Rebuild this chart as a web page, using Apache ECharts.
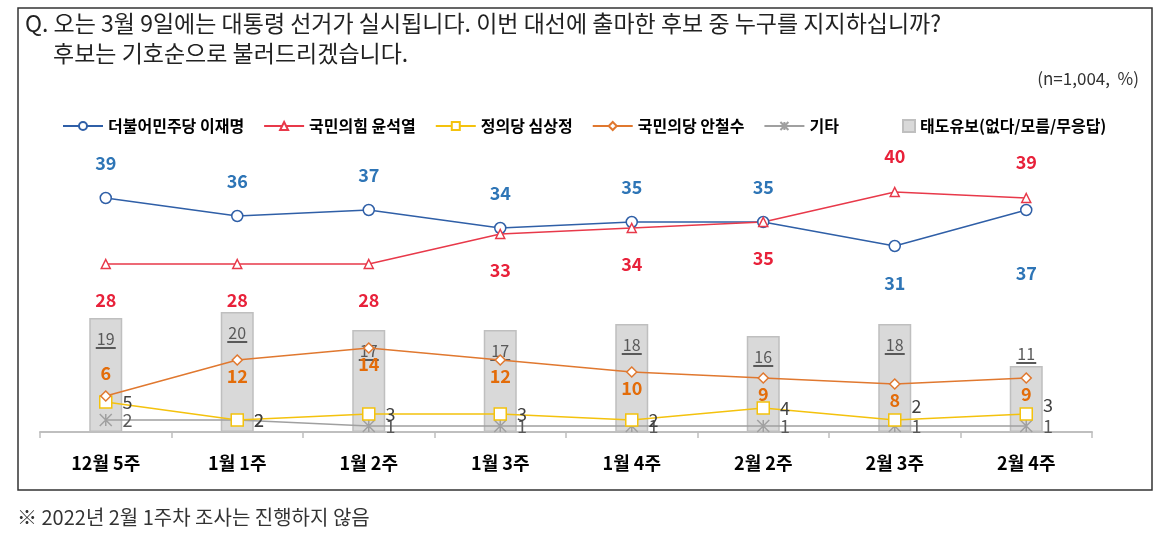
<!DOCTYPE html>
<html>
<head>
<meta charset="utf-8">
<script src="https://cdn.jsdelivr.net/npm/echarts@6/dist/echarts.min.js"></script>
<style>
  html, body { margin: 0; padding: 0; background: #fff; }
  #chart { width: 1162px; height: 539px; }
</style>
</head>
<body>
<div id="chart"></div>
<script>
// 조사 주차
var weeks = ['12월 5주', '1월 1주', '1월 2주', '1월 3주', '1월 4주', '2월 2주', '2월 3주', '2월 4주'];
// 후보별 지지율(%)
var lee = [39, 36, 37, 34, 35, 35, 31, 37];
var yoon = [28, 28, 28, 33, 34, 35, 40, 39];
var sim = [5, 2, 3, 3, 2, 4, 2, 3];
var ahn = [6, 12, 14, 12, 10, 9, 8, 9];
var etc = [2, 2, 1, 1, 1, 1, 1, 1];
var undecided = [19, 20, 17, 17, 18, 16, 18, 11];

var FONT = '"Noto Sans CJK KR", "Noto Sans", sans-serif';
var myChart = echarts.init(document.getElementById('chart'));

// 라벨 위치 (엑셀 원본처럼 일부만 아래/위로)
var leeData = lee.map(function (v, i) {
    if (i < 6) return v;
    return { value: v, label: { position: 'bottom', distance: i === 7 ? 48 : 22 } };
});
var yoonData = yoon.map(function (v, i) {
    if (i < 6) return v;
    return { value: v, label: { position: 'top' } };
});
var ahnData = ahn.map(function (v, i) {
    if (i > 0) return v;
    return { value: v, label: { position: 'top', distance: 8 } };
});
var simData = sim.map(function (v, i) {
    if (i < 6) return v;
    return { value: v, label: { offset: [0, i === 6 ? -14 : -9] } };
});
var barData = undecided.map(function (v, i) {
    if (i < 7) return v;
    return { value: v, label: { position: 'top', distance: 2 } };
});

var option = {
    animation: false,
    textStyle: { fontFamily: FONT },
    title: [
        {
            text: 'Q. 오는 3월 9일에는 대통령 선거가 실시됩니다. 이번 대선에 출마한 후보 중 누구를 지지하십니까?',
            left: 20, top: 7,
            textStyle: { fontSize: 23, fontWeight: 'normal', color: '#222', fontFamily: FONT }
        },
        {
            text: '후보는 기호순으로 불러드리겠습니다.',
            left: 48, top: 37,
            textStyle: { fontSize: 23, fontWeight: 'normal', color: '#222', fontFamily: FONT }
        },
        {
            text: '(n=1,004,  %)',
            right: 18, top: 65,
            textStyle: { fontSize: 17, fontWeight: 'normal', color: '#333', fontFamily: FONT }
        },
        {
            text: '※ 2022년 2월 1주차 조사는 진행하지 않음',
            left: 12, top: 502,
            textStyle: { fontSize: 20, fontWeight: 'normal', color: '#333', fontFamily: FONT }
        }
    ],
    graphic: [
        {
            type: 'rect',
            shape: { x: 18, y: 8, width: 1134, height: 482 },
            style: { fill: 'none', stroke: '#333', lineWidth: 1.5 },
            silent: true
        }
    ],
    legend: [
        {
            left: 57, top: 113,
            itemWidth: 40, itemHeight: 10, itemGap: 19,
            textStyle: { fontSize: 16, fontWeight: 'bold', color: '#000', fontFamily: FONT },
            data: ['더불어민주당 이재명', '국민의힘 윤석열', '정의당 심상정', '국민의당 안철수', '기타']
        },
        {
            left: 897, top: 113,
            itemWidth: 12, itemHeight: 12, itemGap: 3,
            textStyle: { fontSize: 16, fontWeight: 'bold', color: '#000', fontFamily: FONT },
            data: [{ name: '태도유보(없다/모름/무응답)', icon: 'rect' }]
        }
    ],
    grid: { left: 40, right: 70, top: 162, bottom: 107 },
    xAxis: {
        type: 'category',
        data: weeks,
        boundaryGap: true,
        axisLine: { lineStyle: { color: '#bfbfbf', width: 2 } },
        axisTick: { show: true, length: 6, lineStyle: { color: '#bfbfbf', width: 1.5 } },
        axisLabel: { margin: 22, fontSize: 18, fontWeight: 'bold', color: '#000', fontFamily: FONT }
    },
    yAxis: {
        type: 'value',
        min: 0,
        max: 45,
        show: false,
        splitLine: { show: false }
    },
    series: [
        {
            name: '태도유보(없다/모름/무응답)',
            type: 'bar',
            data: barData,
            barWidth: 33,
            itemStyle: { color: '#d9d9d9', borderColor: '#bfbfbf', borderWidth: 1.5 },
            label: {
                show: true,
                position: 'insideTop',
                distance: 12,
                formatter: '{v|{c}}\n{u|}',
                rich: {
                    v: { fontSize: 16, color: '#595959', lineHeight: 17, fontFamily: FONT },
                    u: { width: 20, height: 2, backgroundColor: '#595959' }
                }
            },
            z: 1
        },
        {
            name: '더불어민주당 이재명',
            type: 'line',
            data: leeData,
            symbol: 'circle',
            symbolSize: 11,
            lineStyle: { color: '#2f5fa7', width: 1.5 },
            itemStyle: { color: '#fff', borderColor: '#2f5fa7', borderWidth: 1.5 },
            label: {
                show: true, position: 'top', distance: 20,
                fontSize: 18, fontWeight: 'bold', color: '#2e75b6', fontFamily: FONT
            },
            z: 5
        },
        {
            name: '국민의힘 윤석열',
            type: 'line',
            data: yoonData,
            symbol: 'triangle',
            symbolSize: 9,
            lineStyle: { color: '#e8394a', width: 1.5 },
            itemStyle: { color: '#fff', borderColor: '#e8394a', borderWidth: 1.5 },
            label: {
                show: true, position: 'bottom', distance: 22,
                fontSize: 18, fontWeight: 'bold', color: '#e8213a', fontFamily: FONT
            },
            z: 5
        },
        {
            name: '정의당 심상정',
            type: 'line',
            data: simData,
            symbol: 'rect',
            symbolSize: 12,
            lineStyle: { color: '#f4c20d', width: 1.5 },
            itemStyle: { color: '#fff', borderColor: '#f4c20d', borderWidth: 1.5 },
            label: {
                show: true, position: 'right', distance: 10,
                fontSize: 18, color: '#404040', fontFamily: FONT
            },
            z: 4
        },
        {
            name: '국민의당 안철수',
            type: 'line',
            data: ahnData,
            symbol: 'diamond',
            symbolSize: 10,
            lineStyle: { color: '#e0782f', width: 1.5 },
            itemStyle: { color: '#fff', borderColor: '#e0782f', borderWidth: 1.5 },
            label: {
                show: true, position: 'bottom', distance: 1,
                fontSize: 18, fontWeight: 'bold', color: '#e36c09', fontFamily: FONT
            },
            z: 4
        },
        {
            name: '기타',
            type: 'line',
            data: etc,
            symbol: 'path://M0,0L10,10M10,0L0,10M5,0L5,10',
            symbolSize: 12,
            lineStyle: { color: '#a0a0a0', width: 1.5 },
            itemStyle: { color: '#fff', borderColor: '#a0a0a0', borderWidth: 1.5 },
            label: {
                show: true, position: 'right', distance: 10,
                fontSize: 18, color: '#595959', fontFamily: FONT
            },
            z: 3
        }
    ]
};
myChart.setOption(option);
</script>
</body>
</html>
